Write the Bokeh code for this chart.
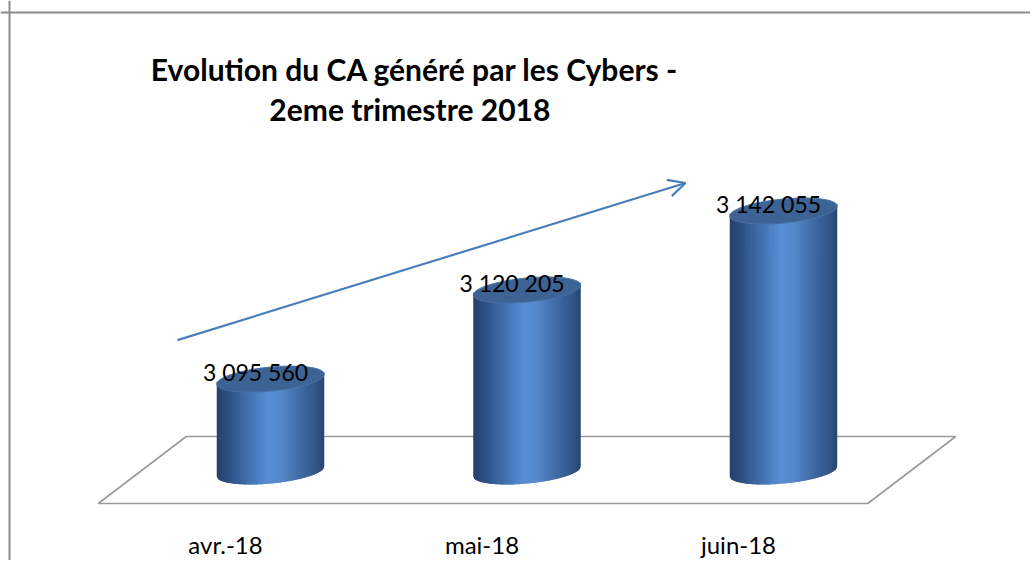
import numpy as np
from bokeh.plotting import figure
from bokeh.models import Range1d, Label, Span, Arrow, OpenHead
from bokeh.core.properties import value
from bokeh.embed import file_html
from bokeh.resources import INLINE

# ---------------- data ----------------
months = ["avr.-18", "mai-18", "juin-18"]
ca = [3095560, 3120205, 3142055]
ca_labels = ["3 095 560", "3 120 205", "3 142 055"]
title_line1 = "Evolution du CA  généré par les Cybers -"
title_line2 = "2eme  trimestre 2018"
axis_min = 3070000

# ---------------- layout / scales ----------------
W, H = 1030, 560
PX_PER_CAT = 256.5          # pixels between category centres
PX_PER_UNIT = 0.003615      # pixels per CA unit
U = 1.0 / PX_PER_UNIT       # CA units per pixel
FIRST_CAT_PX = 270.0        # first category centre from frame left
BASE_PX = 471.0             # axis_min from frame top

xs0 = -FIRST_CAT_PX / PX_PER_CAT
xe0 = xs0 + W / PX_PER_CAT
ys0 = axis_min - (H - BASE_PX) * U
ye0 = axis_min + BASE_PX * U

p = figure(width=W, height=H, x_range=Range1d(xs0, xe0), y_range=Range1d(ys0, ye0),
           output_backend="svg", toolbar_location=None, min_border=0,
           x_axis_type=None, y_axis_type=None)
p.grid.visible = False
p.outline_line_color = None
p.background_fill_color = "white"
p.border_fill_color = "white"

def dx(px):
    return px / PX_PER_CAT

def dy(px):
    return px * U

n = len(months)
idx = list(range(n))

# ---------------- floor (3D plane) ----------------
SHIFT = 44.0
fx = [-0.5 - dx(SHIFT), n - 0.5 - dx(SHIFT), n - 0.5 + dx(SHIFT), -0.5 + dx(SHIFT)]
fy = [axis_min - dy(32), axis_min - dy(32), axis_min + dy(35), axis_min + dy(35)]
p.patch(fx, fy, fill_color="white", line_color="#9a9a9a", line_width=1.6)

# ---------------- cylinders ----------------
A_PX, B_PX = 54.0, 12.0
PHI = np.radians(5.5)
c, s = np.cos(PHI), np.sin(PHI)
XMAX = np.sqrt(A_PX**2 * c**2 + B_PX**2 * s**2)

def lower(xp):
    xp = np.asarray(xp, dtype=float)
    Aq = s**2 / A_PX**2 + c**2 / B_PX**2
    Bq = 2 * xp * s * c * (1 / A_PX**2 - 1 / B_PX**2)
    Cq = xp**2 * (c**2 / A_PX**2 + s**2 / B_PX**2) - 1
    disc = np.maximum(Bq**2 - 4 * Aq * Cq, 0)
    return (-Bq - np.sqrt(disc)) / (2 * Aq)

stops = [(0.0, (0x24, 0x40, 0x69)), (0.12, (0x2e, 0x50, 0x83)), (0.32, (0x44, 0x73, 0xb4)),
         (0.48, (0x5a, 0x8e, 0xd6)), (0.60, (0x55, 0x88, 0xcc)), (0.80, (0x40, 0x68, 0xa0)),
         (0.92, (0x33, 0x57, 0x8a)), (1.0, (0x29, 0x46, 0x72))]

def grad(f):
    for (f0, c0), (f1, c1) in zip(stops[:-1], stops[1:]):
        if f0 <= f <= f1:
            t = (f - f0) / (f1 - f0) if f1 > f0 else 0
            rgb = [int(round(a + (b - a) * t)) for a, b in zip(c0, c1)]
            return "#%02x%02x%02x" % tuple(rgb)
    return "#%02x%02x%02x" % stops[-1][1]

NS = 54
edges = np.linspace(-XMAX, XMAX, NS + 1)
OV = 0.8
sx_list, sy_list, scol = [], [], []
for i, v in zip(idx, ca):
    for k in range(NS):
        xl = max(edges[k] - OV, -XMAX)
        xr = min(edges[k + 1] + OV, XMAX)
        xm = np.linspace(xl, xr, 4)
        bot = lower(xm)
        pts_x = [i + dx(t) for t in xm] + [i + dx(t) for t in xm[::-1]]
        pts_y = [axis_min + dy(b) for b in bot] + [v + dy(b + 3) for b in bot[::-1]]
        sx_list.append(pts_x)
        sy_list.append(pts_y)
        scol.append(grad((0.5 * (edges[k] + edges[k + 1]) + XMAX) / (2 * XMAX)))
p.patches(sx_list, sy_list, fill_color=scol, line_color=None)

th = np.linspace(0, 2 * np.pi, 140)
ex = A_PX * np.cos(th) * c - B_PX * np.sin(th) * s
ey = A_PX * np.cos(th) * s + B_PX * np.sin(th) * c
tx = [list(i + dx(ex)) for i in idx]
ty = [list(v + dy(ey)) for v in ca]
p.patches(tx, ty, fill_color="#3c6394", line_color="#4673ab", line_width=1)

# ---------------- trend arrow ----------------
p.add_layout(Arrow(x_start=idx[0] - dx(93), y_start=ca[0] + dy(39),
                   x_end=idx[-1] - dx(98), y_end=ca[-1] + dy(28),
                   line_color="#4a7ebb", line_width=2.2,
                   end=OpenHead(size=17, line_color="#4a7ebb", line_width=2.2)))

# ---------------- texts ----------------
p.text(x=idx, y=[v + dy(7) for v in ca], text=ca_labels, x_offset=-15,
       text_align="center", text_baseline="alphabetic",
       text_font=value("Lato"), text_font_size="23px", text_color="black")

p.text(x=idx, y=[axis_min - dy(73)] * n, text=months, x_offset=-45,
       text_align="center", text_baseline="alphabetic",
       text_font=value("Lato"), text_font_size="24px", text_color="black")

p.add_layout(Label(x=418, y=H - 68, x_units="screen", y_units="screen", text=title_line1,
                   text_align="center", text_baseline="alphabetic", text_font="Lato",
                   text_font_style="bold", text_font_size="30px", text_color="black"))
p.add_layout(Label(x=413, y=H - 108, x_units="screen", y_units="screen", text=title_line2,
                   text_align="center", text_baseline="alphabetic", text_font="Lato",
                   text_font_style="bold", text_font_size="30px", text_color="black"))

# ---------------- chart frame border ----------------
p.add_layout(Span(location=xs0 + dx(9), dimension="height", line_color="#8c8c8c", line_width=2))
p.add_layout(Span(location=ye0 - dy(12), dimension="width", line_color="#8c8c8c", line_width=2))

open("out.html", "w").write(file_html(p, INLINE))
